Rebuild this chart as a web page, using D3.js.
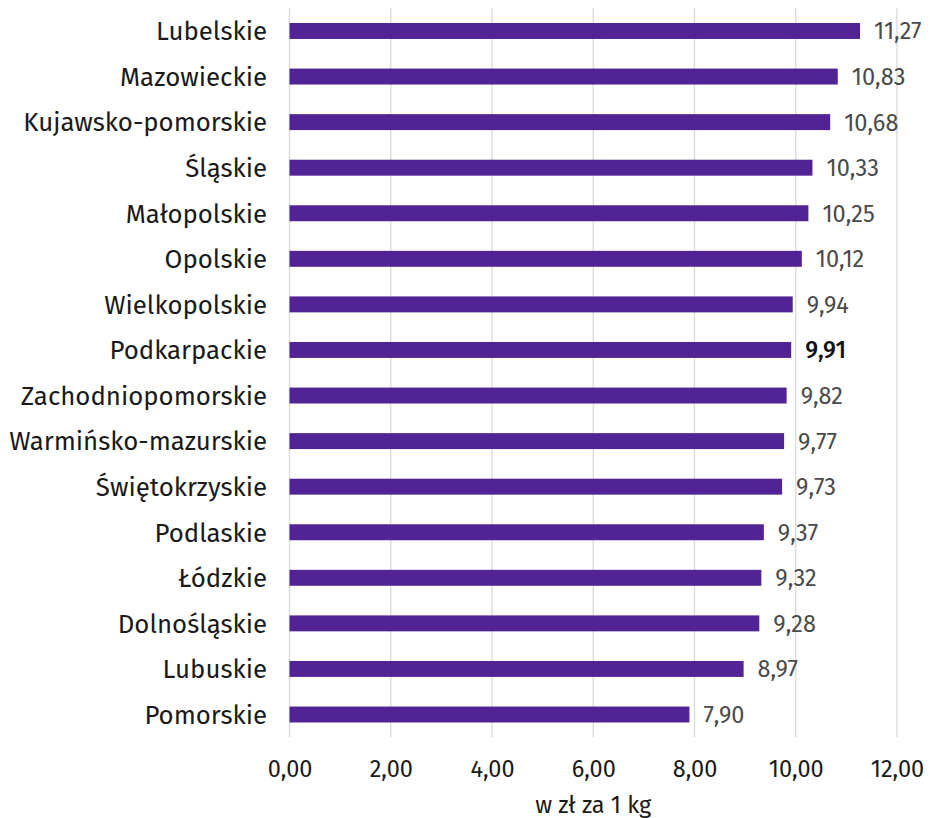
<!DOCTYPE html>
<html><head><meta charset="utf-8">
<script src="https://cdn.jsdelivr.net/npm/d3@7"></script>
<style>body{margin:0;background:#fff}svg{display:block}</style>
</head><body>
<script>
const categories = ["Lubelskie","Mazowieckie","Kujawsko-pomorskie","Śląskie","Małopolskie","Opolskie","Wielkopolskie","Podkarpackie","Zachodniopomorskie","Warmińsko-mazurskie","Świętokrzyskie","Podlaskie","Łódzkie","Dolnośląskie","Lubuskie","Pomorskie"];
const values = [11.27,10.83,10.68,10.33,10.25,10.12,9.94,9.91,9.82,9.77,9.73,9.37,9.32,9.28,8.97,7.90];
const xTicks = [0,2,4,6,8,10,12];
const highlighted = ["Podkarpackie"];
const axisTitle = "w zł za 1 kg";

const W = 930, H = 818;
const font = "'Fira Sans','Open Sans','Noto Sans',sans-serif";
const svg = d3.select("body").append("svg").attr("width", W).attr("height", H);

const x = d3.scaleLinear().domain([0, 12]).range([289.5, 897]);
const y = d3.scaleBand().domain(categories).range([8.2, 737.3]).paddingInner(0.65).paddingOuter(0.325);
const fmt = v => v.toFixed(2).replace(".", ",");

// gridlines
svg.append("g").selectAll("line").data(xTicks).join("line")
  .attr("x1", d => x(d)).attr("x2", d => x(d))
  .attr("y1", 8).attr("y2", 737)
  .attr("stroke", "#d9d9d9").attr("stroke-width", 1.3);

// bars
svg.append("g").selectAll("rect").data(values).join("rect")
  .attr("x", x(0)).attr("y", (d, i) => y(categories[i]))
  .attr("width", d => x(d) - x(0)).attr("height", y.bandwidth())
  .attr("fill", "#522394");

// value labels
svg.append("g").selectAll("text").data(values).join("text")
  .attr("x", d => x(d) + 14).attr("y", (d, i) => y(categories[i]) + y.bandwidth() / 2)
  .attr("dy", "0.36em")
  .attr("font-family", font).attr("font-size", 23.5)
  .attr("fill", (d, i) => highlighted.includes(categories[i]) ? "#111" : "#4a4a4a")
  .attr("font-weight", (d, i) => highlighted.includes(categories[i]) ? 500 : 400)
  .text(d => fmt(d));

// category labels
svg.append("g").selectAll("text").data(categories).join("text")
  .attr("x", 267).attr("y", d => y(d) + y.bandwidth() / 2)
  .attr("dy", "0.36em").attr("text-anchor", "end")
  .attr("font-family", font).attr("font-size", 25.8).attr("fill", "#1a1a1a")
  .text(d => d);

// x axis
const ax = svg.append("g").attr("transform", "translate(0,750)")
  .call(d3.axisBottom(x).tickValues(xTicks).tickFormat(fmt).tickSize(0).tickPadding(10));
ax.select(".domain").remove();
ax.selectAll("text").attr("font-family", font).attr("font-size", 23.5).attr("fill", "#1a1a1a");

svg.append("text").attr("x", x(6)).attr("y", 805).attr("dy", "0.36em")
  .attr("text-anchor", "middle").attr("font-family", font).attr("font-size", 23.5).attr("fill", "#1a1a1a")
  .text(axisTitle);
</script>
</body></html>
